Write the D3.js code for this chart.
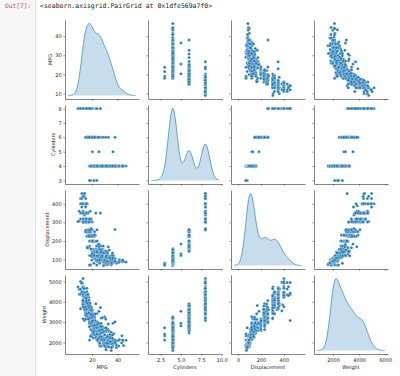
<!DOCTYPE html>
<html>
<head>
<meta charset="utf-8">
<script src="https://cdn.jsdelivr.net/npm/d3@7"></script>
<style>
  body { margin: 0; background: #fff; }
  svg text { font-family: "DejaVu Sans", sans-serif; }
</style>
</head>
<body>
<div id="chart"></div>
<script>

// auto-mpg columns (one value per car, same order in every array)
const mpg = [
  18,15,18,16,17,15,14,14,14,15, 15,14,15,14,24,22,18,21,27,26,
  25,24,25,26,21,10,10,11,9,27, 28,25,25,19,16,17,19,18,14,14,
  14,14,12,13,13,18,22,19,18,23, 28,30,30,31,35,27,26,24,25,23,
  20,21,13,14,15,14,17,11,13,12, 13,19,15,13,13,14,18,22,21,26,
  22,28,23,28,27,13,14,13,14,15, 12,13,13,14,13,12,13,18,16,18,
  18,23,26,11,12,13,12,18,20,21, 22,18,19,21,26,15,16,29,24,20,
  19,15,24,20,11,20,21,19,15,31, 26,32,25,16,16,18,16,13,14,14,
  14,29,26,26,31,32,28,24,26,24, 26,31,19,18,15,15,16,15,16,14,
  17,16,15,18,21,20,13,29,23,20, 23,24,25,24,18,29,19,23,23,22,
  25,33,28,25,25,26,27,17.5,16,15.5, 14.5,22,22,24,22.5,29,24.5,29,33,20,
  18,18.5,17.5,29.5,32,28,26.5,20,13,19, 19,16.5,16.5,13,13,13,31.5,30,36,25.5,
  33.5,17.5,17,15.5,15,17.5,20.5,19,18.5,16, 15.5,15.5,16,29,24.5,26,25.5,30.5,33.5,30,
  30.5,22,21.5,21.5,43.1,36.1,32.8,39.4,36.1,19.9, 19.4,20.2,19.2,20.5,20.2,25.1,20.5,19.4,20.6,20.8,
  18.6,18.1,19.2,17.7,18.1,17.5,30,27.5,27.2,30.9, 21.1,23.2,23.8,23.9,20.3,17,21.6,16.2,31.5,29.5,
  21.5,19.8,22.3,20.2,20.6,17,17.6,16.5,18.2,16.9, 15.5,19.2,18.5,31.9,34.1,35.7,27.4,25.4,23,27.2,
  23.9,34.2,34.5,31.8,37.3,28.4,28.8,26.8,33.5,41.5, 38.1,32.1,37.2,28,26.4,24.3,19.1,34.3,29.8,31.3,
  37,32.2,46.6,27.9,40.8,44.3,43.4,36.4,30,44.6, 40.9,33.8,29.8,32.7,23.7,35,23.6,32.4,27.2,26.6,
  25.8,23.5,30,39.1,39,35.1,32.3,37,37.7,34.1, 34.7,34.4,29.9,33,34.5,33.7,32.4,32.9,31.6,28.1,
  30.7,25.4,24.2,22.4,26.6,20.2,17.6,28,27,34, 31,29,27,24,36,37,31,38,36,36,
  36,34,38,32,38,25,38,26,22,32, 36,27,27,44,32,28,31
];

const cylinders = [
  8,8,8,8,8,8,8,8,8,8, 8,8,8,8,4,6,6,6,4,4,
  4,4,4,4,6,8,8,8,8,4, 4,4,4,6,6,6,6,6,8,8,
  8,8,8,8,8,6,4,6,6,4, 4,4,4,4,4,4,4,4,4,4,
  4,4,8,8,8,8,8,8,8,8, 8,3,8,8,8,8,4,4,4,4,
  4,4,4,4,4,8,8,8,8,8, 8,8,8,8,8,8,8,6,6,6,
  6,6,4,8,8,8,8,6,4,4, 4,3,4,6,4,8,8,4,4,4,
  4,8,4,6,8,6,6,6,6,4, 4,4,4,6,6,6,8,8,8,8,
  8,4,4,4,4,4,4,4,4,4, 4,4,6,6,6,6,8,8,8,8,
  6,6,6,6,6,8,8,4,4,6, 4,4,4,4,6,4,6,4,4,4,
  4,4,4,4,4,4,4,8,8,8, 8,6,6,6,6,4,4,4,4,6,
  6,6,6,4,4,4,4,4,8,4, 6,6,8,8,8,8,4,4,4,4,
  4,8,8,8,8,6,6,6,6,8, 8,8,8,4,4,4,4,4,4,4,
  4,6,4,3,4,4,4,4,4,8, 8,8,6,6,6,4,6,6,6,6,
  6,6,8,6,8,8,4,4,4,4, 4,4,4,4,5,6,4,6,4,4,
  6,6,4,6,6,8,8,8,8,8, 8,8,8,4,4,4,4,5,8,4,
  8,4,4,4,4,4,6,6,4,4, 4,4,4,4,4,4,6,4,4,4,
  4,4,4,4,4,4,4,5,4,4, 4,4,4,6,3,4,4,4,4,4,
  4,6,4,4,4,4,4,4,4,4, 4,4,4,4,4,4,4,4,4,4,
  6,6,6,6,8,6,6,4,4,4, 4,4,4,4,4,4,4,4,4,4,
  4,4,4,4,4,6,6,4,6,4, 4,4,4,4,4,4,4
];

const displacement = [
  307,350,318,304,302,429,454,440,455,390, 383,340,400,455,113,198,199,200,97,97,
  110,107,104,121,199,360,307,318,304,97, 140,113,98,232,225,250,250,232,350,400,
  351,318,383,400,400,258,140,250,250,122, 116,79,88,71,72,97,91,113,97.5,97,
  140,122,350,400,318,351,304,429,350,350, 400,70,304,307,302,318,121,121,120,96,
  122,97,120,98,97,350,304,350,302,318, 429,400,351,318,440,455,360,225,250,232,
  250,198,97,400,400,360,350,232,97,140, 108,70,122,155,98,350,400,68,116,114,
  121,318,121,156,350,198,200,232,250,79, 122,71,140,250,258,225,302,350,318,302,
  304,98,79,97,76,83,90,90,116,120, 108,79,225,250,250,250,400,350,318,351,
  231,250,258,225,231,262,302,97,140,232, 140,134,90,119,171,90,232,115,120,121,
  121,91,107,116,140,98,101,305,318,304, 351,225,250,200,232,85,98,90,91,225,
  250,250,258,97,85,97,140,130,318,120, 156,168,350,350,302,318,98,111,79,122,
  85,305,260,318,302,250,231,225,250,400, 350,400,351,97,151,97,140,98,98,97,
  97,146,121,80,90,98,78,85,91,260, 318,302,231,200,200,140,225,232,231,200,
  225,258,305,231,302,318,98,134,119,105, 134,156,151,119,131,163,121,163,89,98,
  231,200,140,232,225,305,302,351,318,350, 351,267,360,89,86,98,121,183,350,141,
  260,105,105,85,91,151,173,173,151,98, 89,98,86,151,140,151,225,97,134,120,
  119,108,86,156,85,90,90,121,146,91, 85,97,89,168,70,122,140,107,135,151,
  156,173,135,79,86,81,97,85,89,91, 105,98,98,105,100,107,108,119,120,141,
  145,168,146,231,350,200,225,112,112,112, 112,135,151,140,105,91,91,105,98,120,
  107,108,91,91,91,181,262,156,232,144, 135,151,140,97,135,120,119
];

const weight = [
  3504,3693,3436,3433,3449,4341,4354,4312,4425,3850, 3563,3609,3761,3086,2372,2833,2774,2587,2130,1835,
  2672,2430,2375,2234,2648,4615,4376,4382,4732,2130, 2264,2228,2046,2634,3439,3329,3302,3288,4209,4464,
  4154,4096,4955,4746,5140,2962,2408,3282,3139,2220, 2123,2074,2065,1773,1613,1834,1955,2278,2126,2254,
  2408,2226,4274,4385,4135,4129,3672,4633,4502,4456, 4422,2330,3892,4098,4294,4077,2933,2511,2979,2189,
  2395,2288,2506,2164,2100,4100,3672,3988,4042,3777, 4952,4464,4363,4237,4735,4951,3821,3121,3278,2945,
  3021,2904,1950,4997,4906,4654,4499,2789,2279,2401, 2379,2124,2310,2472,2265,4082,4278,1867,2158,2582,
  2868,3399,2660,2807,3664,3102,2875,2901,3336,1950, 2451,1836,2542,3781,3632,3613,4141,4699,4457,4638,
  4257,2219,1963,2300,1649,2003,2125,2108,2246,2489, 2391,2000,3264,3459,3432,3158,4668,4440,4498,4657,
  3907,3897,3730,3785,3039,3221,3169,2171,2639,2914, 2592,2702,2223,2545,2984,1937,3211,2694,2957,2945,
  2671,1795,2464,2220,2572,2255,2202,4215,4190,3962, 4215,3233,3353,3012,3085,2035,2164,1937,1795,3651,
  3574,3645,3193,1825,1990,2155,2565,3150,3940,3270, 2930,3820,4380,4055,3870,3755,2045,2155,1825,2300,
  1945,3880,4060,4140,4295,3520,3425,3630,3525,4220, 4165,4325,4335,1940,2740,2265,2755,2051,2075,1985,
  2190,2815,2600,2720,1985,1800,1985,2070,1800,3365, 3735,3570,3535,3155,2965,2720,3430,3210,3380,3070,
  3620,3410,3425,3445,3205,4080,2155,2560,2300,2230, 2515,2745,2855,2405,2830,3140,2795,3410,1990,2135,
  3245,2990,2890,3265,3360,3840,3725,3955,3830,4360, 4054,3605,3940,1925,1975,1915,2670,3530,3900,3190,
  3420,2200,2150,2020,2130,2670,2595,2700,2556,2144, 1968,2120,2019,2678,2870,3003,3381,2188,2711,2542,
  2434,2265,2110,2800,2110,2085,2335,2950,3250,1850, 1835,2145,1845,2910,2420,2500,2905,2290,2490,2635,
  2620,2725,2385,1755,1875,1760,2065,1975,2050,1985, 2215,2045,2380,2190,2320,2210,2350,2615,2635,3230,
  3160,2900,2930,3415,3725,3060,3465,2605,2640,2395, 2575,2525,2735,2865,1980,2025,1970,2125,2125,2160,
  2205,2245,1965,1965,1995,2945,3015,2585,2835,2665, 2370,2950,2790,2130,2295,2625,2720
];

const varNames = ["MPG", "Cylinders", "Displacement", "Weight"];
const xTickValues = [[20, 40], [2.5, 5, 7.5, 10], [0, 200, 400], [2000, 4000, 6000]];
const yTickValues = [[10, 20, 30, 40], [3, 4, 5, 6, 7, 8], [100, 200, 300, 400], [2000, 3000, 4000, 5000]];
const xTickFormats = [d3.format("d"), d3.format(".1f"), d3.format("d"), d3.format("d")];
const yTickFormat = d3.format("d");

const columns = [mpg, cylinders, displacement, weight];

var width = 400;
var height = 376;

// grid placement (window.top is reserved, hence the longer names)
var gridLeft = 65, gridTop = 20;
var cellW = 74, cellH = 79;
var stepX = 83, stepY = 85;
var tickLen = 1.7, tickPad = 1.7;

const blue = "#1f77b4";

var svg = d3.select("#chart").append("svg")
    .attr("width", width)
    .attr("height", height);

// notebook output prompt strip
svg.append("rect")
    .attr("x", 0).attr("y", 0)
    .attr("width", 35).attr("height", height)
    .attr("fill", "#f7f7f7");
svg.append("line")
    .attr("x1", 35.5).attr("x2", 35.5)
    .attr("y1", 0).attr("y2", height)
    .attr("stroke", "#e4e4e4");

svg.append("text")
    .attr("x", 5).attr("y", 8)
    .style("font-family", "'DejaVu Sans Mono', monospace")
    .style("font-size", "6.2px")
    .attr("fill", "#d84315")
    .text("Out[7]:");

svg.append("text")
    .attr("x", 40).attr("y", 8)
    .style("font-family", "'DejaVu Sans Mono', monospace")
    .style("font-size", "6.5px")
    .attr("fill", "#222")
    .text("<seaborn.axisgrid.PairGrid at 0x1dfe569a7f0>");


// kde like the old seaborn / statsmodels default (scott bandwidth, cut = 3)
function bandwidth(v) {
    const sd = d3.deviation(v);
    const iqr = d3.quantile(v, 0.75) - d3.quantile(v, 0.25);
    return 1.059 * Math.min(sd, iqr / 1.349) * Math.pow(v.length, -0.2);
}

function density(v, bw) {
    const lo = d3.min(v) - 3 * bw, hi = d3.max(v) + 3 * bw;
    const n = 100;
    const k = 1 / (bw * Math.sqrt(2 * Math.PI) * v.length);
    const out = [];
    for (let i = 0; i < n; i++) {
        const x = lo + (hi - lo) * i / (n - 1);
        out.push([x, d3.sum(v, d => Math.exp(-0.5 * ((x - d) / bw) ** 2)) * k]);
    }
    return out;
}

function padded(lo, hi) {
    const m = (hi - lo) * 0.05;
    return [lo - m, hi + m];
}

const kdes = columns.map(v => density(v, bandwidth(v)));

// x shared per column (kde support decides), y shared per row (scatter data)
const xScales = kdes.map(k =>
    d3.scaleLinear()
        .domain(padded(k[0][0], k[k.length - 1][0]))
        .range([0, cellW]));

const yScales = columns.map(v =>
    d3.scaleLinear()
        .domain(padded(d3.min(v), d3.max(v)))
        .range([cellH, 0]));


function styleAxis(sel) {
    sel.select(".domain").attr("stroke", "#333").attr("stroke-width", 0.6);
    sel.selectAll(".tick line").attr("stroke", "#333").attr("stroke-width", 0.5);
    sel.selectAll(".tick text")
        .attr("fill", "#1a1a1a")
        .style("font-size", "5px");
}


for (let i = 0; i < 4; i++) {
    for (let j = 0; j < 4; j++) {

        const cell = svg.append("g")
            .attr("transform", `translate(${gridLeft + j * stepX},${gridTop + i * stepY})`);

        const x = xScales[j];
        const y = yScales[i];

        if (i === j) {
            const k = kdes[i];
            const dmax = d3.max(k, d => d[1]);
            const yd = d3.scaleLinear()
                .domain(padded(0, dmax))
                .range([cellH, 0]);

            cell.append("path")
                .datum(k)
                .attr("fill", blue)
                .attr("fill-opacity", 0.25)
                .attr("d", d3.area().x(d => x(d[0])).y0(yd(0)).y1(d => yd(d[1])));

            cell.append("path")
                .datum(k)
                .attr("fill", "none")
                .attr("stroke", blue)
                .attr("stroke-opacity", 0.85)
                .attr("stroke-width", 0.75)
                .attr("d", d3.line().x(d => x(d[0])).y(d => yd(d[1])));
        } else {
            const xs = columns[j], ys = columns[i];
            cell.append("g")
                .selectAll("circle")
                .data(d3.range(xs.length))
                .enter()
                .append("circle")
                .attr("cx", d => x(xs[d]))
                .attr("cy", d => y(ys[d]))
                .attr("r", 1.5)
                .attr("fill", blue)
                .attr("stroke", "#fff")
                .attr("stroke-width", 0.3);
        }

        // left spine
        const yAxis = d3.axisLeft(y)
            .tickValues(yTickValues[i])
            .tickSize(tickLen)
            .tickSizeOuter(0)
            .tickPadding(tickPad)
            .tickFormat(j > 0 ? "" : yTickFormat);
        const yG = cell.append("g").call(yAxis).call(styleAxis);

        // bottom spine
        const xAxis = d3.axisBottom(x)
            .tickValues(xTickValues[j])
            .tickSize(tickLen)
            .tickSizeOuter(0)
            .tickPadding(tickPad + 0.6)
            .tickFormat(i < 3 ? "" : xTickFormats[j]);
        cell.append("g")
            .attr("transform", `translate(0,${cellH})`)
            .call(xAxis)
            .call(styleAxis);

        if (j === 0) {
            let maxW = 0;
            yG.selectAll(".tick text").each(function () {
                maxW = Math.max(maxW, this.getBBox().width);
            });
            cell.append("text")
                .attr("transform", `translate(${-(tickLen + tickPad + maxW + 1.9 + 1.2)},${cellH / 2}) rotate(-90)`)
                .attr("text-anchor", "middle")
                .attr("fill", "#1a1a1a")
                .style("font-size", "5px")
                .text(varNames[i]);
        }

        if (i === 3) {
            cell.append("text")
                .attr("x", cellW / 2)
                .attr("y", cellH + 15)
                .attr("text-anchor", "middle")
                .attr("fill", "#1a1a1a")
                .style("font-size", "5px")
                .text(varNames[j]);
        }
    }
}

</script>
</body>
</html>
